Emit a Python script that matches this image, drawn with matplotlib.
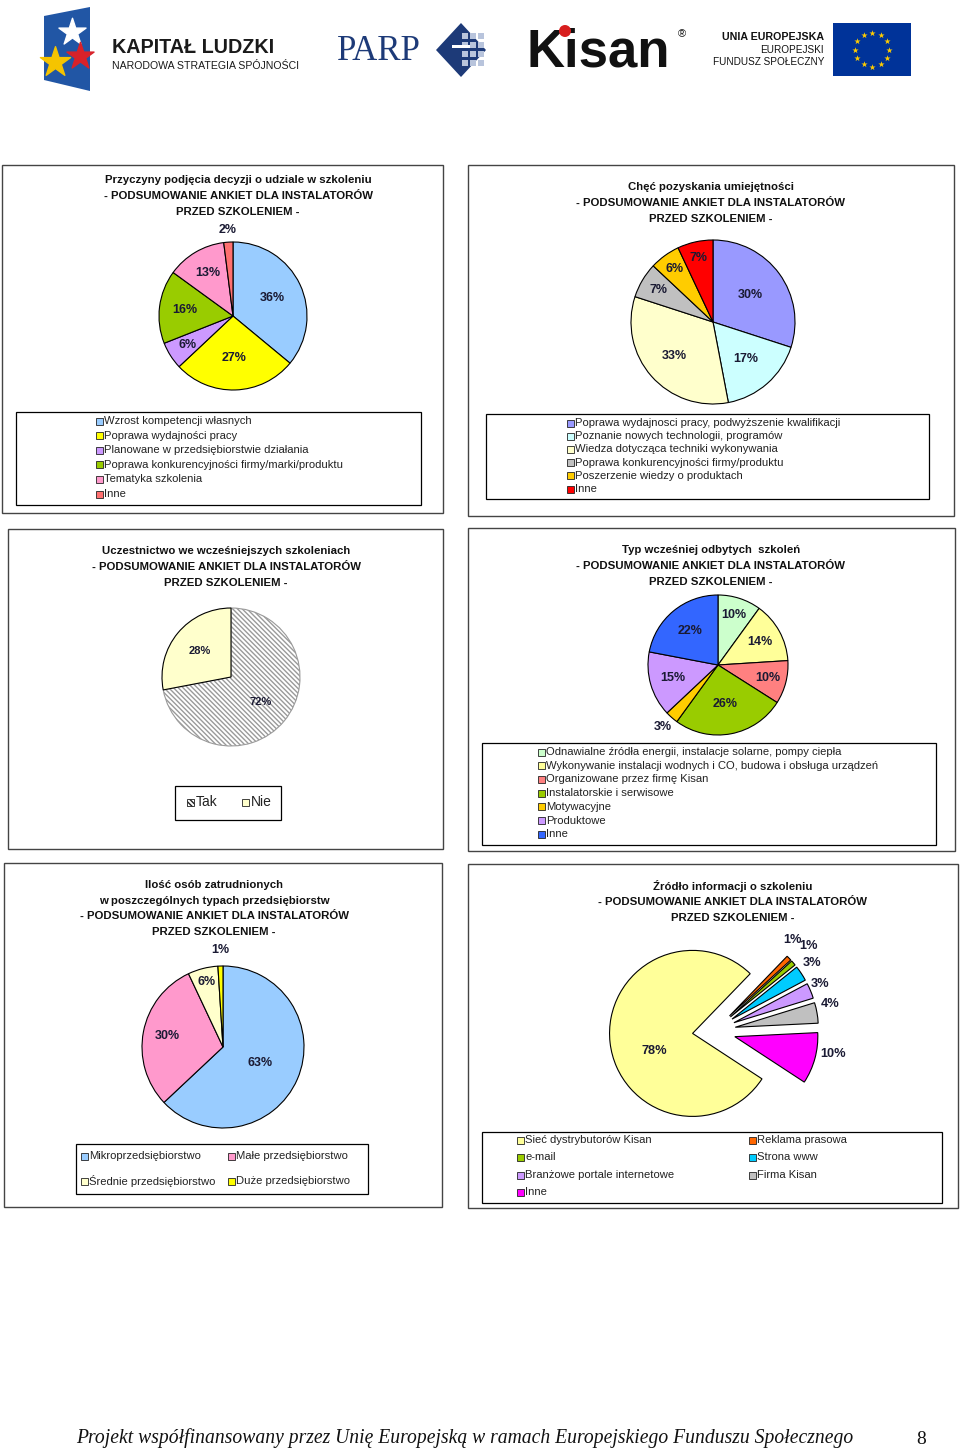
import matplotlib
matplotlib.use('Agg')
import matplotlib.pyplot as plt
from matplotlib.patches import Rectangle, Polygon, Circle
import numpy as np

plt.rcParams['font.family'] = ['Liberation Sans', 'DejaVu Sans']

W, H = 960, 1450

# ---- data ----
c1_title = ['Przyczyny podjęcia decyzji o udziale w szkoleniu',
            '- PODSUMOWANIE ANKIET DLA INSTALATORÓW', 'PRZED SZKOLENIEM -']
c1_labels = ['Wzrost kompetencji własnych', 'Poprawa wydajności pracy',
             'Planowane w przedsiębiorstwie działania',
             'Poprawa konkurencyjności firmy/marki/produktu', 'Tematyka szkolenia', 'Inne']
c1_values = [36, 27, 6, 16, 13, 2]
c1_colors = ['#99CCFF', '#FFFF00', '#CC99FF', '#99CC00', '#FF99CC', '#FF7070']

c2_title = ['Chęć pozyskania umiejętności',
            '- PODSUMOWANIE ANKIET DLA INSTALATORÓW', 'PRZED SZKOLENIEM -']
c2_labels = ['Poprawa wydajnosci pracy, podwyższenie kwalifikacji',
             'Poznanie nowych technologii, programów', 'Wiedza dotycząca techniki wykonywania',
             'Poprawa konkurencyjności firmy/produktu', 'Poszerzenie wiedzy o produktach', 'Inne']
c2_values = [30, 17, 33, 7, 6, 7]
c2_colors = ['#9999FF', '#CCFFFF', '#FFFFCC', '#C0C0C0', '#FFCC00', '#FF0000']

c3_title = ['Uczestnictwo we wcześniejszych szkoleniach',
            '- PODSUMOWANIE ANKIET DLA INSTALATORÓW', 'PRZED SZKOLENIEM -']
c3_labels = ['Tak', 'Nie']
c3_values = [72, 28]
c3_colors = ['#FFFFFF', '#FFFFCC']

c4_title = ['Typ wcześniej odbytych  szkoleń',
            '- PODSUMOWANIE ANKIET DLA INSTALATORÓW', 'PRZED SZKOLENIEM -']
c4_labels = ['Odnawialne źródła energii, instalacje solarne, pompy ciepła',
             'Wykonywanie instalacji wodnych i CO, budowa i obsługa urządzeń',
             'Organizowane przez firmę Kisan', 'Instalatorskie i serwisowe',
             'Motywacyjne', 'Produktowe', 'Inne']
c4_values = [10, 14, 10, 26, 3, 15, 22]
c4_colors = ['#CCFFCC', '#FFFF99', '#FF8080', '#99CC00', '#FFCC00', '#CC99FF', '#3366FF']

c5_title = ['Ilość osób zatrudnionych', 'w poszczególnych typach przedsiębiorstw',
            '- PODSUMOWANIE ANKIET DLA INSTALATORÓW', 'PRZED SZKOLENIEM -']
c5_labels = ['Mikroprzedsiębiorstwo', 'Małe przedsiębiorstwo',
             'Średnie przedsiębiorstwo', 'Duże przedsiębiorstwo']
c5_values = [63, 30, 6, 1]
c5_colors = ['#99CCFF', '#FF99CC', '#FFFFCC', '#FFFF00']

c6_title = ['Źródło informacji o szkoleniu',
            '- PODSUMOWANIE ANKIET DLA INSTALATORÓW', 'PRZED SZKOLENIEM -']
c6_labels = ['Sieć dystrybutorów Kisan', 'Reklama prasowa', 'e-mail', 'Strona www',
             'Branżowe portale internetowe', 'Firma Kisan', 'Inne']
c6_values = [78, 1, 1, 3, 3, 4, 10]
c6_colors = ['#FFFF99', '#FF6600', '#99CC00', '#00CCFF', '#CC99FF', '#C0C0C0', '#FF00FF']

footer = 'Projekt współfinansowany przez Unię Europejską w ramach Europejskiego Funduszu Społecznego'
page_no = '8'

fig = plt.figure(figsize=(9.6, 14.5), dpi=100)
fig.patch.set_facecolor('white')

# overlay in pixel coordinates
bg = fig.add_axes([0, 0, 1, 1])
bg.set_xlim(0, W)
bg.set_ylim(H, 0)
bg.axis('off')


def pie_ax(cx, cy, r, lim=1.0):
    s = r * lim
    ax = fig.add_axes([(cx - s) / W, 1 - (cy + s) / H, 2 * s / W, 2 * s / H])
    return ax


def draw_pie(cx, cy, r, values, colors, dists, nudges=None, start=90, explode=None,
             lim=1.0, fs=9, hatches=None):
    ax = pie_ax(cx, cy, r, lim)
    wedges, _, pcts = ax.pie(values, colors=colors, startangle=start, counterclock=False,
                             explode=explode, autopct='%1.0f%%',
                             wedgeprops=dict(edgecolor='black', linewidth=0.8),
                             textprops=dict(fontsize=fs, fontweight='bold', color='#1a1a33'))
    ax.set_xlim(-lim, lim)
    ax.set_ylim(-lim, lim)
    ax.set_aspect('equal')
    ax.axis('off')
    if nudges is None:
        nudges = [0] * len(values)
    for w, t, d, n in zip(wedges, pcts, dists, nudges):
        a = np.deg2rad((w.theta1 + w.theta2) / 2 + n)
        t.set_position((w.center[0] + d * np.cos(a), w.center[1] + d * np.sin(a)))
        t.set_ha('center')
        t.set_va('center')
    if hatches:
        for w, h in zip(wedges, hatches):
            if h:
                w.set_hatch(h)
                w.set_edgecolor('#9a9a9a')
    return wedges


def frame(x0, y0, x1, y1, lw=1.0, color='#444444'):
    bg.add_patch(Rectangle((x0, y0), x1 - x0, y1 - y0, fill=False,
                           edgecolor=color, linewidth=lw))


def title(lines, cx, y0, step=16, fs=8.2):
    for i, t in enumerate(lines):
        bg.text(cx, y0 + i * step, t, ha='center', va='center', fontsize=fs,
                fontweight='bold', color='#111111')


def legend(wedges, labels, pos, fs=8.1, sq=7, gap=1.5):
    for w, lab, (x, y) in zip(wedges, labels, pos):
        bg.add_patch(Rectangle((x - sq / 2, y - sq / 2), sq, sq, facecolor=w.get_facecolor(),
                               edgecolor='#222222', linewidth=0.6, hatch=w.get_hatch()))
        bg.text(x + sq / 2 + gap, y, lab, ha='left', va='center', fontsize=fs, color='#222222')


# ---- chart 1 ----
frame(2, 165, 443, 513)
title(c1_title, 238, 180)
w1 = draw_pie(233, 316, 74, c1_values, c1_colors, [0.58, 0.57, 0.72, 0.65, 0.67, 1.16])
frame(16, 412, 421, 505, lw=0.9, color='black')
legend(w1, c1_labels, [(99, 421 + i * 14.6) for i in range(6)])

# ---- chart 2 ----
frame(468, 165, 954, 516)
title(c2_title, 711, 187)
w2 = draw_pie(713, 322, 82, c2_values, c2_colors, [0.57, 0.6, 0.63, 0.77, 0.8, 0.8])
frame(486, 414, 929, 499, lw=0.9, color='black')
legend(w2, c2_labels, [(570, 423 + i * 13.2) for i in range(6)])

# ---- chart 3 ----
frame(8, 529, 443, 849)
title(c3_title, 226, 551)
w3 = draw_pie(231, 677, 69, c3_values, c3_colors, [0.56, 0.59], fs=8,
              hatches=['\\\\\\\\\\\\\\', None])
frame(175, 786, 281, 820, lw=0.9, color='black')
legend(w3, c3_labels, [(190, 802), (245, 802)], fs=10, sq=7, gap=2)

# ---- chart 4 ----
frame(468, 528, 955, 851)
title(c4_title, 711, 550)
w4 = draw_pie(718, 665, 70, c4_values, c4_colors, [0.75, 0.69, 0.73, 0.57, 1.19, 0.67, 0.63])
frame(482, 743, 936, 845, lw=0.9, color='black')
legend(w4, c4_labels, [(541, 752 + i * 13.7) for i in range(7)])

# ---- chart 5 ----
frame(4, 863, 442, 1207)
title(c5_title, 214, 885, step=15.7)
w5 = draw_pie(223, 1047, 81, c5_values, c5_colors, [0.5, 0.7, 0.83, 1.2])
frame(76, 1144, 368, 1194, lw=0.9, color='black')
legend(w5, c5_labels, [(84, 1156), (231, 1156), (84, 1181), (231, 1181)])

# ---- chart 6 ----
frame(468, 864, 958, 1208)
title(c6_title, 733, 886)
w6 = draw_pie(714, 1031, 83, c6_values, c6_colors,
              [0.5, 1.19, 1.27, 1.18, 1.14, 1.17, 1.2],
              nudges=[18, 6, 1.6, 1.4, 1.6, 3.6, 5.4],
              start=-33.2, explode=[0.26] * 7, lim=1.6, fs=9.2)
frame(482, 1132, 942, 1203, lw=0.9, color='black')
legend(w6, c6_labels, [(520, 1140), (752, 1140), (520, 1157.5), (752, 1157.5),
                       (520, 1175), (752, 1175), (520, 1192)])

# ---- logos ----
bg.add_patch(Polygon([(44, 16), (90, 7), (90, 91), (44, 80)], closed=True,
                     facecolor='#2156a5', edgecolor='none'))
bg.scatter([72], [32], marker='*', s=420, color='white', zorder=3)
bg.scatter([80], [56], marker='*', s=420, color='#d8222a', zorder=3)
bg.scatter([55], [62], marker='*', s=520, color='#f5c400', zorder=3)
bg.text(112, 47, 'KAPITAŁ LUDZKI', fontsize=14.2, fontweight='bold', ha='left',
        va='center', color='#1a1a1a')
bg.text(112, 66, 'NARODOWA STRATEGIA SPÓJNOŚCI', fontsize=7.6, ha='left', va='center',
        color='#1a1a1a')

bg.text(337, 51, 'PARP', fontsize=25, family='Liberation Serif', ha='left', va='center',
        color='#1d3a78')
bg.add_patch(Polygon([(436, 50), (461, 23), (486, 50), (461, 77)], closed=True,
                     facecolor='#1d3a78', edgecolor='none'))
for gx in (465, 473, 481):
    for gy in (33, 42, 51, 60):
        bg.add_patch(Rectangle((gx - 3, gy), 6, 6, facecolor='#b8c4dc', edgecolor='none'))
bg.add_patch(Rectangle((452, 45), 18, 3, facecolor='white', edgecolor='none'))

bg.text(527, 52, 'Kisan', fontsize=38, fontweight='bold', ha='left', va='center',
        color='#111111')
bg.add_patch(Circle((565, 31), 6, facecolor='#d81e1e', edgecolor='none', zorder=4))
bg.text(682, 34, '®', fontsize=8, ha='center', va='center', color='#111111')

bg.text(824, 37, 'UNIA EUROPEJSKA', fontsize=7.7, fontweight='bold', ha='right',
        va='center', color='#111111')
bg.text(824, 50, 'EUROPEJSKI', fontsize=7.2, ha='right', va='center', color='#111111')
bg.text(824, 62, 'FUNDUSZ SPOŁECZNY', fontsize=7.2, ha='right', va='center', color='#111111')
bg.add_patch(Rectangle((833, 23), 78, 53, facecolor='#003399', edgecolor='none'))
ang = np.deg2rad(np.arange(0, 360, 30))
bg.scatter(872 + 17 * np.cos(ang), 49.5 + 17 * np.sin(ang), marker='*', s=22,
           color='#ffcc00', zorder=3, linewidths=0)

# ---- footer ----
bg.text(76, 1438, footer, fontsize=14.1, family='Liberation Serif', style='italic',
        ha='left', va='center', color='#111111')
bg.text(921, 1440, page_no, fontsize=14, family='Liberation Serif', ha='center',
        va='center', color='#111111')

fig.savefig('out.png', dpi=100, facecolor='white')
